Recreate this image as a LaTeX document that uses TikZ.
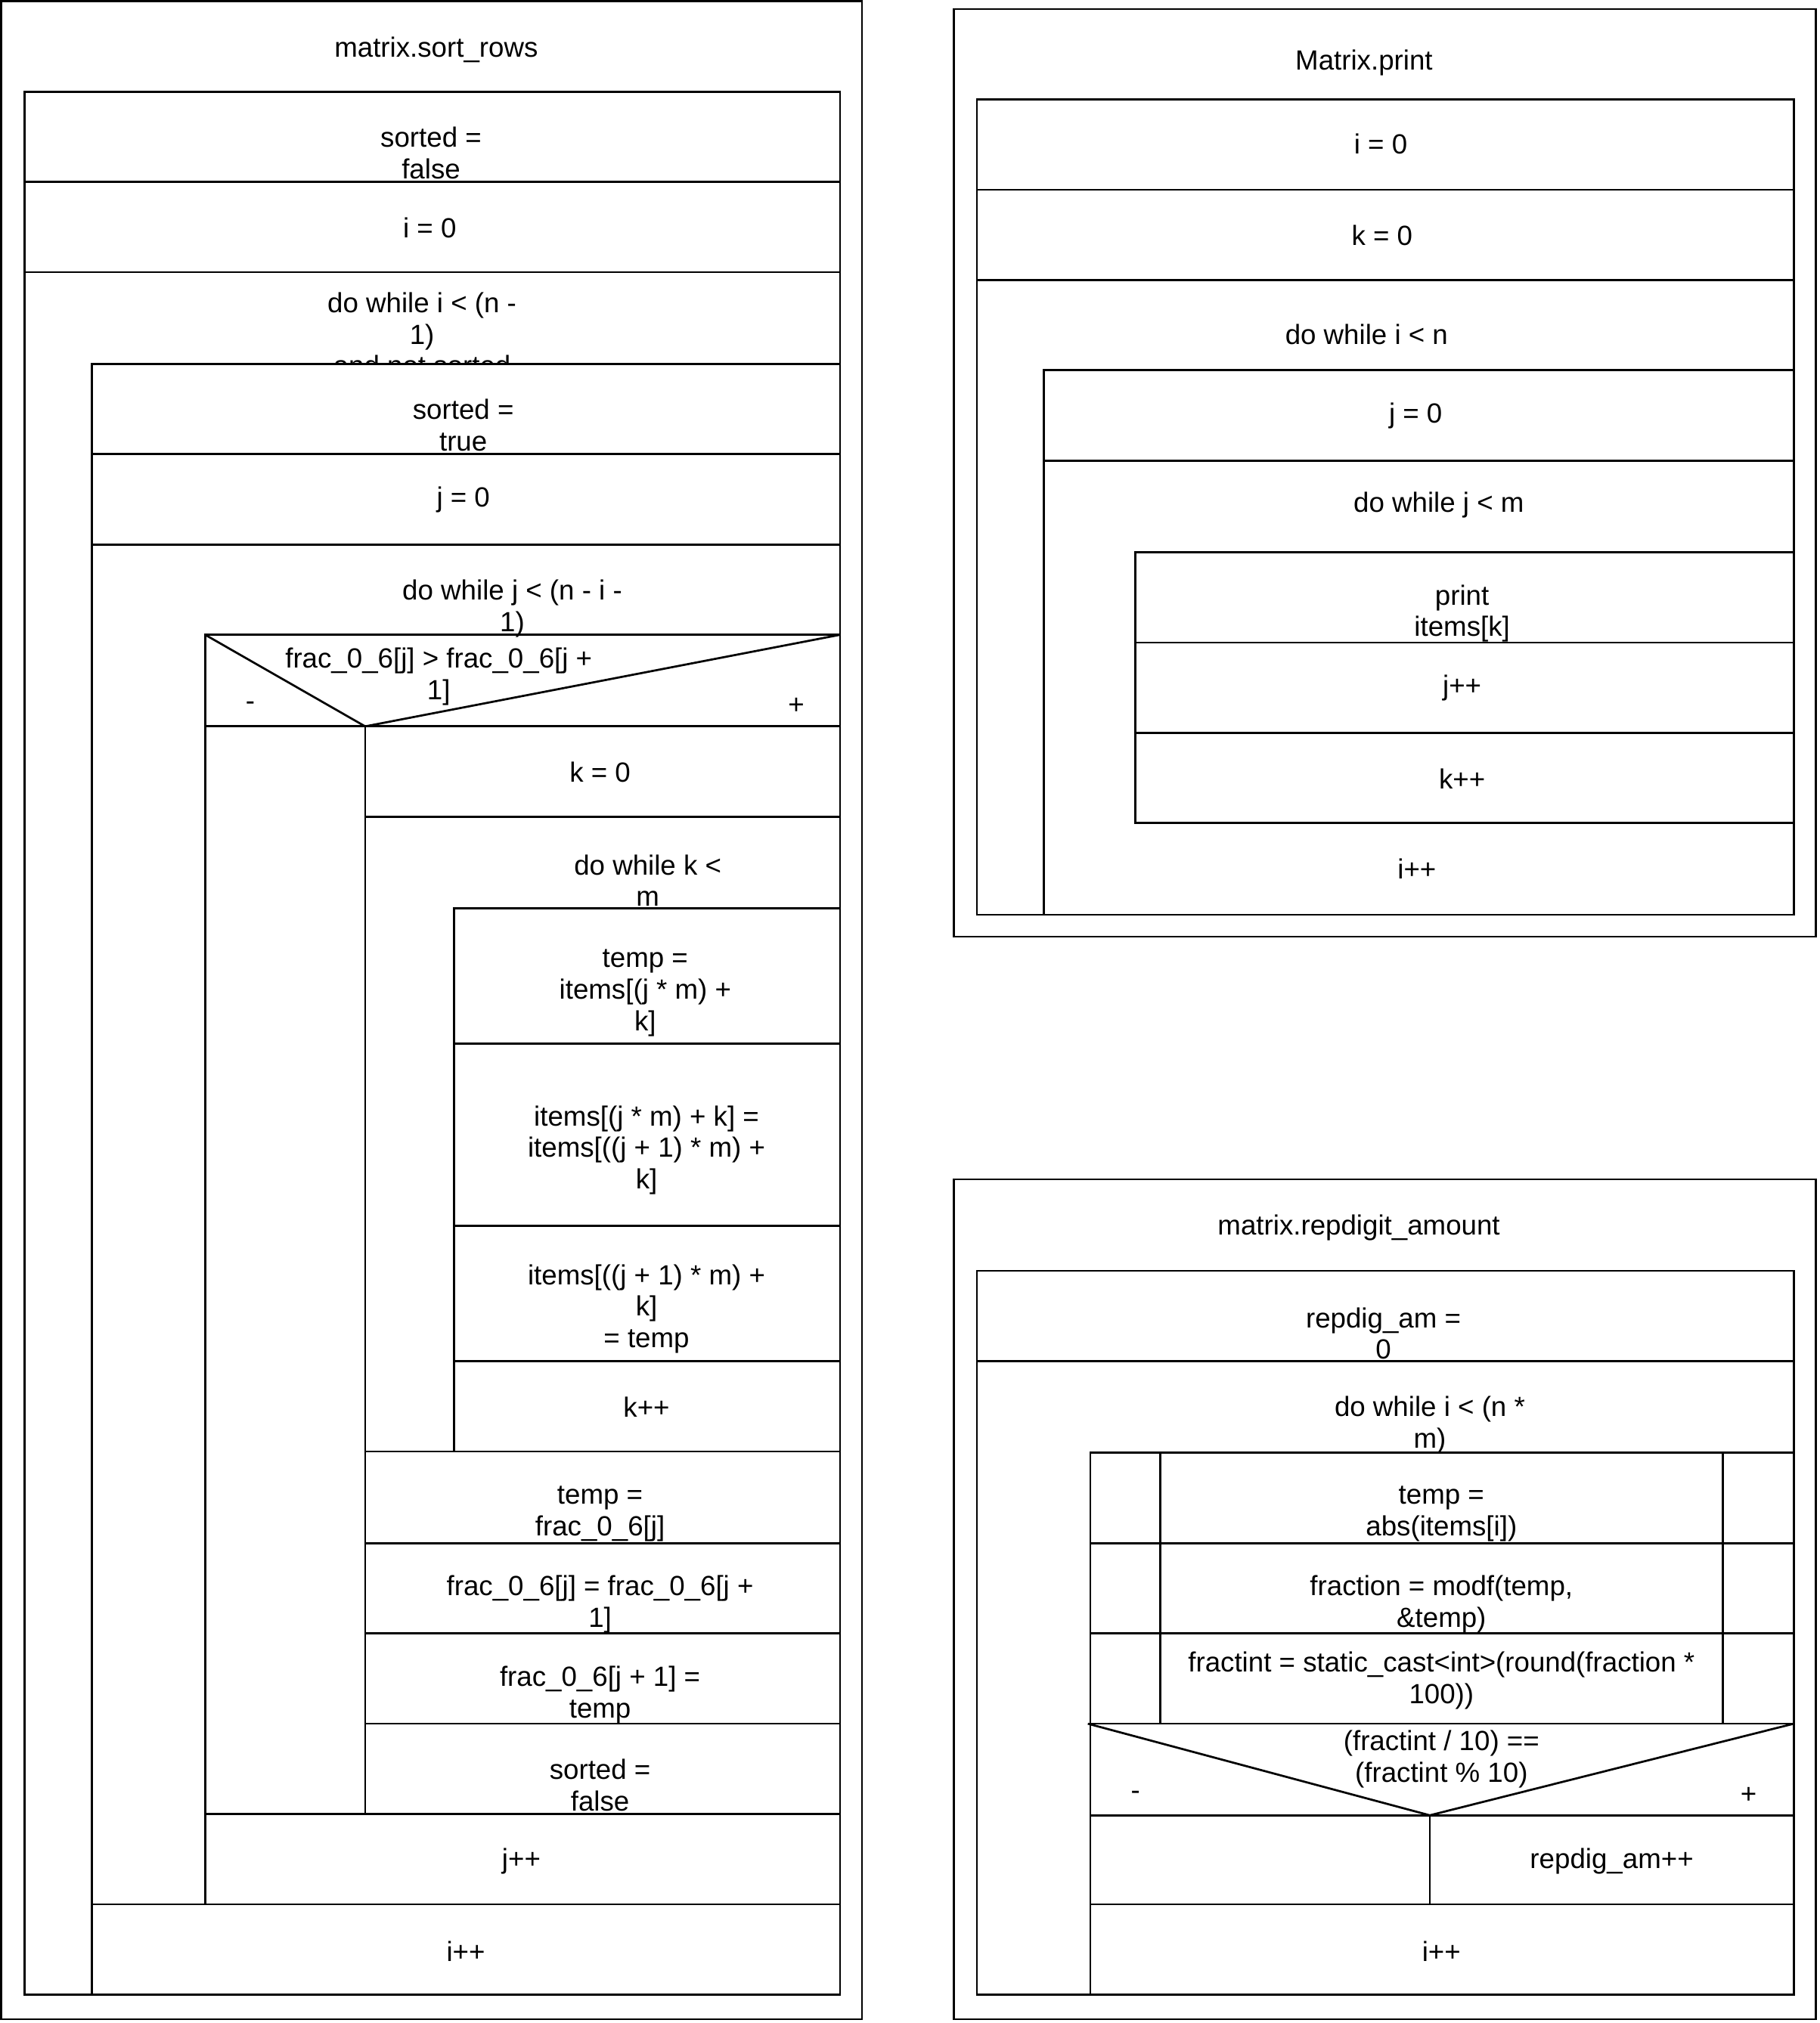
\documentclass[tikz,border=0pt]{standalone}
\usepackage{fontspec}
\setmainfont{Liberation Sans}
\newcommand{\nsfont}{\fontsize{21.5pt}{24.5pt}\selectfont}

\tikzset{
  nsline/.style={line width=1.6pt},
  nstext/.style={align=center, inner sep=0pt, font=\nsfont, yshift=-1.5pt},
}

\begin{document}
\begin{tikzpicture}[x=1pt,y=-1pt,nsline]
		\useasboundingbox (0,0) rectangle (1410,1568);
		\fill[white] (0,0) rectangle (1410,1568);
		% matrix.sort_rows
		\draw (0.8,1) rectangle (668,1565);
		\node[nstext] (srTitle) at (338,37) {matrix.sort\_rows};
		\draw (19,71) rectangle (651,1546);
		\draw (19,141) -- (651,141);
		\draw (19,211) -- (651,211);
		\node[nstext] (srA) at (334,117) {sorted =\\false};
		\node[nstext] (srB) at (333,175) {i = 0};
		\begin{scope}
			\clip (19,211) rectangle (651,282);
			\node[nstext] (srLoopI) at (327,257.5) {do while i < (n -\\1)\\and not sorted};
		\end{scope}
		\draw (71,282) rectangle (651,1546);
		\draw (71,352) -- (651,352);
		\draw (71,422) -- (651,422);
		\node[nstext] (srC) at (359,328) {sorted =\\true};
		\node[nstext] (srD) at (359,386) {j = 0};
		\node[nstext] (srLoopJ) at (397,470) {do while j < (n - i -\\1)};
		\draw (159,492) rectangle (651,1476);
		% if frac_0_6[j] > frac_0_6[j+1]
		\draw (159,492) -- (283,563) -- (651,492);
		\draw (159,563) -- (651,563);
		\draw (283,563) -- (283,1406);
		\node[nstext] (srIf) at (340,523) {frac\_0\_6[j] > frac\_0\_6[j +\\1]};
		\node[nstext] (srNo) at (194,546) {-};
		\node[nstext] (srYes) at (617,546) {+};
		\draw (283,633) -- (651,633);
		\node[nstext] (srE) at (465,597) {k = 0};
		\node[nstext] (srLoopK) at (502,681) {do while k <\\m};
		\draw (352,704) rectangle (651,1125);
		\draw (352,809) -- (651,809);
		\draw (352,950) -- (651,950);
		\draw (352,1055) -- (651,1055);
		\node[nstext] (srF) at (500,768) {temp =\\items[(j * m) +\\k]};
		\node[nstext] (srG) at (501,890) {items[(j * m) + k] =\\items[((j + 1) * m) +\\k]};
		\node[nstext] (srH) at (501,1013) {items[((j + 1) * m) +\\k]\\= temp};
		\node[nstext] (srI) at (501,1089) {k++};
		\draw (283,1125) -- (651,1125);
		\draw (283,1196) -- (651,1196);
		\draw (283,1266) -- (651,1266);
		\draw (283,1336) -- (651,1336);
		\draw (159,1406) -- (651,1406);
		\draw (71,1476) -- (651,1476);
		\node[nstext] (srJ) at (465,1172) {temp =\\frac\_0\_6[j]};
		\node[nstext] (srK) at (465,1242) {frac\_0\_6[j] = frac\_0\_6[j +\\1]};
		\node[nstext] (srL) at (465,1312) {frac\_0\_6[j + 1] =\\temp};
		\node[nstext] (srM) at (465,1382) {sorted =\\false};
		\node[nstext] (srN) at (404,1441) {j++};
		\node[nstext] (srO) at (361,1511) {i++};
		% Matrix.print
		\draw (739,7) rectangle (1407,726);
		\node[nstext] (prTitle) at (1057,47) {Matrix.print};
		\draw (757,77) rectangle (1390,709);
		\draw (757,147) -- (1390,147);
		\draw (757,217) -- (1390,217);
		\draw (809,287) rectangle (1390,709);
		\draw (809,357) -- (1390,357);
		\draw (880,428) rectangle (1390,638);
		\draw (880,498) -- (1390,498);
		\draw (880,568) -- (1390,568);
		\node[nstext] (prA) at (1070,110) {i = 0};
		\node[nstext] (prB) at (1071,181) {k = 0};
		\node[nstext] (prLoopI) at (1059,258) {do while i < n};
		\node[nstext] (prC) at (1097,321) {j = 0};
		\node[nstext] (prLoopJ) at (1115,390) {do while j < m};
		\node[nstext] (prD) at (1133,474) {print\\items[k]};
		\node[nstext] (prE) at (1133,532) {j++};
		\node[nstext] (prF) at (1133,602) {k++};
		\node[nstext] (prG) at (1098,672) {i++};
		% matrix.repdigit_amount
		\draw (739,914) rectangle (1407,1565);
		\node[nstext] (rdTitle) at (1053,950) {matrix.repdigit\_amount};
		\draw (757,985) rectangle (1390,1546);
		\draw (757,1055) -- (1390,1055);
		\node[nstext] (rdA) at (1072,1032) {repdig\_am =\\0};
		\node[nstext] (rdLoop) at (1108,1103) {do while i < (n *\\m)};
		\draw (845,1126) rectangle (1390,1546);
		\draw (845,1196) -- (1390,1196);
		\draw (845,1266) -- (1390,1266);
		\draw (899,1126) -- (899,1336);
		\draw (1335,1126) -- (1335,1336);
		\node[nstext] (rdB) at (1117,1172) {temp =\\abs(items[i])};
		\node[nstext] (rdC) at (1117,1242) {fraction = modf(temp,\\\&temp)};
		\node[nstext] (rdD) at (1117,1301) {fractint = static\_cast<int>(round(fraction *\\100))};
		% if (fractint / 10) == (fractint % 10)
		\draw (845,1336) -- (1390,1336);
		\draw (843,1336) -- (1108,1407) -- (1390,1336);
		\draw (845,1407) -- (1390,1407);
		\draw (1108,1407) -- (1108,1476);
		\draw (845,1476) -- (1390,1476);
		\node[nstext] (rdIf) at (1117,1362) {(fractint / 10) ==\\(fractint \% 10)};
		\node[nstext] (rdNo) at (880,1390) {-};
		\node[nstext] (rdYes) at (1355,1390) {+};
		\node[nstext] (rdE) at (1249,1441) {repdig\_am++};
		\node[nstext] (rdF) at (1117,1511) {i++};
\end{tikzpicture}
\end{document}
